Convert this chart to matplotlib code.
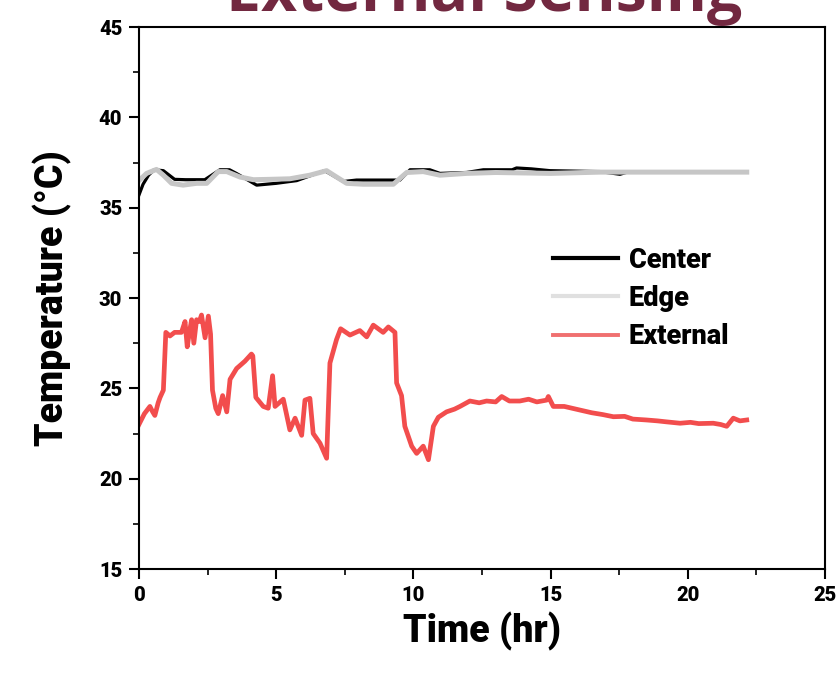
import numpy as np
import matplotlib
matplotlib.use("Agg")
import matplotlib.pyplot as plt
from matplotlib.ticker import MultipleLocator

# ---- data (time in hr, temperature in C) ----
t_center = [0.0, 0.15, 0.35, 0.55, 0.89, 1.3, 1.7, 2.4, 2.95, 3.3, 3.55, 4.29, 5.0,
            5.75, 6.48, 6.77, 7.45, 7.93, 9.27, 9.51, 9.88, 10.6, 10.97, 11.94,
            12.55, 13.6, 13.76, 14.3, 14.98, 16.8, 17.53, 17.8, 22.15]
T_center = [35.7, 36.3, 36.8, 37.1, 37.05, 36.57, 36.55, 36.55, 37.1, 37.1, 36.9, 36.25, 36.35,
            36.5, 36.9, 37.05, 36.45, 36.53, 36.53, 36.53, 37.1, 37.1, 36.9, 36.95,
            37.1, 37.1, 37.2, 37.15, 37.05, 37.0, 36.85, 36.97, 36.97]

t_edge = [0.0, 0.28, 0.64, 0.89, 1.19, 1.61, 2.1, 2.47, 2.89, 3.2, 3.68, 4.17, 4.77,
          5.5, 6.23, 6.84, 7.2, 7.57, 8.17, 9.27, 9.76, 10.36, 10.97, 11.94, 13.0,
          15.0, 16.8, 22.15]
T_edge = [36.5, 36.9, 37.12, 36.8, 36.35, 36.25, 36.35, 36.35, 37.0, 37.0, 36.7, 36.55, 36.57,
          36.6, 36.8, 37.05, 36.7, 36.35, 36.3, 36.3, 36.95, 37.0, 36.8, 36.9, 36.95,
          36.9, 36.97, 36.97]

t_ext = [0.0, 0.2, 0.4, 0.5, 0.58, 0.7, 0.77, 0.89, 0.98, 1.13, 1.3, 1.55, 1.68, 1.76,
         1.85, 1.92, 2.0, 2.1, 2.2, 2.28, 2.41, 2.53, 2.61, 2.68, 2.8, 2.89, 3.05, 3.2,
         3.32, 3.56, 3.86, 4.1, 4.15, 4.26, 4.53, 4.71, 4.87, 4.96, 5.26, 5.5, 5.69,
         5.93, 6.05, 6.23, 6.35, 6.6, 6.84, 6.96, 7.2, 7.35, 7.69, 8.05, 8.3, 8.54,
         8.9, 9.09, 9.33, 9.39, 9.57, 9.69, 9.94, 10.12, 10.36, 10.55, 10.73, 10.91,
         11.21, 11.5, 11.7, 12.06, 12.4, 12.67, 13.0, 13.22, 13.5, 13.88, 14.2, 14.5,
         14.86, 14.92, 15.1, 15.5, 16.07, 16.5, 16.9, 17.29, 17.7, 18.0, 18.5, 18.9,
         19.2, 19.72, 20.1, 20.4, 20.93, 21.2, 21.42, 21.66, 21.9, 22.15]
T_ext = [23.0, 23.6, 24.0, 23.7, 23.5, 24.2, 24.5, 24.9, 28.1, 27.9, 28.1, 28.1, 28.7, 27.3,
         28.2, 28.8, 27.5, 28.8, 28.7, 29.06, 27.8, 29.0, 28.0, 24.9, 23.9, 23.6, 24.6, 23.7,
         25.5, 26.1, 26.5, 26.9, 26.8, 24.5, 24.0, 23.9, 25.7, 24.0, 24.4, 22.7, 23.35,
         22.4, 24.35, 24.45, 22.5, 21.96, 21.13, 26.4, 27.7, 28.3, 27.95, 28.2, 27.85, 28.5,
         28.1, 28.4, 28.1, 25.3, 24.6, 22.9, 21.8, 21.4, 21.8, 21.05, 22.9, 23.4,
         23.7, 23.85, 24.0, 24.3, 24.2, 24.3, 24.25, 24.55, 24.3, 24.3, 24.4, 24.25,
         24.35, 24.55, 24.0, 24.0, 23.8, 23.65, 23.55, 23.43, 23.45, 23.3, 23.25, 23.2,
         23.15, 23.07, 23.12, 23.05, 23.07, 23.0, 22.9, 23.35, 23.2, 23.25]

labels = ["Center", "Edge", "External"]

tick_font = ["Roboto", "DejaVu Sans"]
label_font = ["Roboto", "DejaVu Sans"]

fig = plt.figure(figsize=(8.37, 6.73), dpi=100)
ax = fig.add_axes([0.166, 0.1545, 0.8196, 0.8053])

ax.plot(t_center, T_center, color="black", lw=2.3, label=labels[0])
ax.plot(t_edge, T_edge, color="#c6c6c6", lw=3.6, label=labels[1])
ax.plot(t_ext, T_ext, color="#f24d4d", lw=3.4, label=labels[2])

ax.set_xlim(0, 25)
ax.set_ylim(15, 45)
ax.xaxis.set_major_locator(MultipleLocator(5))
ax.xaxis.set_minor_locator(MultipleLocator(2.5))
ax.yaxis.set_major_locator(MultipleLocator(5))
ax.yaxis.set_minor_locator(MultipleLocator(2.5))

for s in ax.spines.values():
    s.set_linewidth(1.5)
ax.tick_params(which="major", direction="out", length=7, width=1.5, top=False, right=False, pad=5)
ax.tick_params(which="minor", direction="out", length=4, width=1.2, top=False, right=False)
for lab in ax.get_xticklabels() + ax.get_yticklabels():
    lab.set_family(tick_font)
    lab.set_fontweight("heavy")
    lab.set_fontsize(14.5)

ax.set_xlabel("Time (hr)", family=label_font, fontweight="heavy", fontsize=27, labelpad=5)
ax.set_ylabel("Temperature (\u00b0C)", family=label_font, fontweight="heavy", fontsize=27, labelpad=19)

leg = ax.legend(loc="upper left", bbox_to_anchor=(0.6035, 0.595), frameon=False,
                borderaxespad=0, borderpad=0, handlelength=2.4, handletextpad=0.4,
                labelspacing=0.42, prop={"family": label_font, "weight": "heavy", "size": 19.5})
leg.get_lines()[0].set_linewidth(3.0)
leg.get_lines()[1].set_color("#e0e0e0")
leg.get_lines()[1].set_linewidth(3.0)
leg.get_lines()[2].set_color("#f07070")
leg.get_lines()[2].set_linewidth(2.8)

# page title, cut off at the top of the picture
fig.text(0.578, 0.984, "External Sensing", color="#722840", fontsize=45,
         fontweight="bold", family=["Open Sans", "DejaVu Sans"], ha="center", va="baseline")

fig.savefig("out.png", dpi=100)
